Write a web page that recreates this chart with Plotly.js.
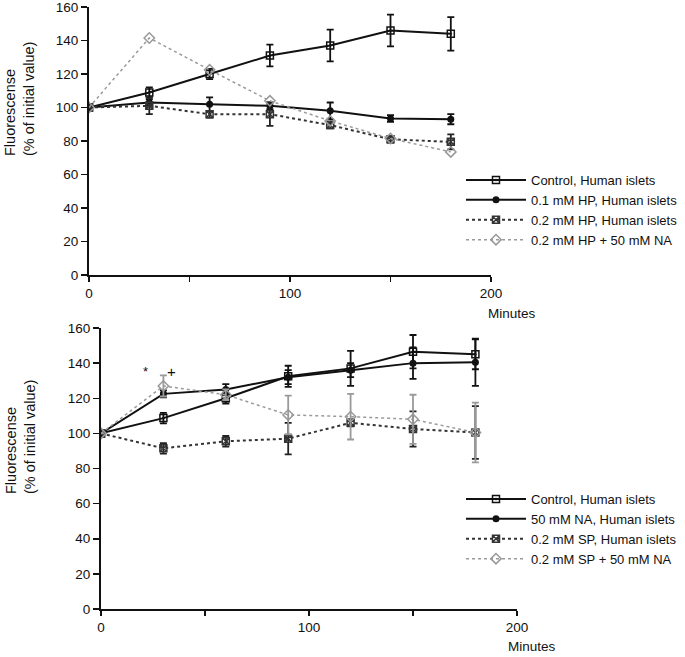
<!DOCTYPE html>
<html>
<head>
<meta charset="utf-8">
<script src="https://cdn.plot.ly/plotly-3.0.1.min.js"></script>
<style>html,body{margin:0;padding:0;background:#fff;}#chart{width:685px;height:657px;}</style>
</head>
<body>
<div id="chart"></div>
<script>
// ---- data ----
const minutes = [0, 30, 60, 90, 120, 150, 180];

// Top panel
const topNames = ["Control, Human islets", "0.1 mM HP, Human islets", "0.2 mM HP, Human islets", "0.2 mM HP + 50 mM NA"];
const topControl = [100, 109, 120, 131, 137, 146, 144];
const topControlErr = [0, 3, 3, 6.5, 9.5, 9.5, 10];
const topHP01 = [100, 103, 102, 101, 98, 93.5, 93];
const topHP01Err = [0, 2, 4, 2, 5, 2, 3];
const topHP02 = [100, 101, 96, 96, 89.5, 81, 79.5];
const topHP02Err = [0, 5, 2, 7, 2, 2, 4.5];
const topHPNA = [100, 141.5, 122.5, 104, 92, 81.5, 73.5];

// Bottom panel
const botNames = ["Control, Human islets", "50 mM NA, Human islets", "0.2 mM SP, Human islets", "0.2 mM SP + 50 mM NA"];
const botControl = [100, 108.7, 120, 132.5, 137, 146.5, 145];
const botControlErr = [0, 3, 3, 6, 10, 9.5, 8.5];
const botNA = [100, 122.5, 125, 132, 136, 140, 140.5];
const botNAErr = [0, 2, 3, 4, 4, 9, 13.5];
const botSP = [100, 91.5, 95.5, 97, 106, 102.5, 100.5];
const botSPErr = [0, 3, 3, 9, 2, 10, 15];
const botSPNA = [100, 127, 122, 110.5, 109.5, 108, 100.5];
const botSPNAErr = [0, 6, 3, 11, 13, 14, 17];

const xTickVals = [0, 50, 100, 150, 200];
const xTickText = ["0", "", "100", "", "200"];
const yTickVals = [0, 20, 40, 60, 80, 100, 120, 140, 160];

// ---- styles ----
const FONT = "Liberation Sans, Arial, Helvetica, sans-serif";
const styles = [
  {line:{color:"#111", width:2, dash:"solid"}, marker:{symbol:"square-open-dot", size:7, color:"#111", line:{width:1.5, color:"#111"}}, err:"#111"},
  {line:{color:"#111", width:2, dash:"solid"}, marker:{symbol:"circle", size:7, color:"#111"}, err:"#111"},
  {line:{color:"#333", width:2, dash:"dot"}, marker:{symbol:"square-x-open", size:7, color:"#333", line:{width:1.5, color:"#333"}}, err:"#222"},
  {line:{color:"#9a9a9a", width:1.5, dash:"dot"}, marker:{symbol:"diamond-open", size:8, color:"#999", line:{width:1.5, color:"#999"}}, err:"#9a9a9a"}
];

function tr(y, err, i, names, xa, ya, lg) {
  const s = styles[i];
  const t = {
    x: minutes, y: y, type: "scatter", mode: "lines+markers",
    name: names[i], xaxis: xa, yaxis: ya, legend: lg,
    line: s.line, marker: s.marker
  };
  if (err) t.error_y = {type: "data", array: err, visible: true, color: s.err, thickness: 1.8, width: 3.5};
  return t;
}

const data = [
  tr(topControl, topControlErr, 0, topNames, "x", "y", "legend"),
  tr(topHP01, topHP01Err, 1, topNames, "x", "y", "legend"),
  tr(topHP02, topHP02Err, 2, topNames, "x", "y", "legend"),
  tr(topHPNA, null, 3, topNames, "x", "y", "legend"),
  tr(botControl, botControlErr, 0, botNames, "x2", "y2", "legend2"),
  tr(botNA, botNAErr, 1, botNames, "x2", "y2", "legend2"),
  tr(botSP, botSPErr, 2, botNames, "x2", "y2", "legend2"),
  tr(botSPNA, botSPNAErr, 3, botNames, "x2", "y2", "legend2")
];

const W = 685, H = 657;
function px(x) { return x / W; }
function py(y) { return 1 - y / H; }

const xAxisBase = {
  range: [0, 200], showline: true, linecolor: "#111", linewidth: 2,
  ticks: "outside", ticklen: 5, tickwidth: 1.5, tickcolor: "#111",
  tickvals: xTickVals, ticktext: xTickText, showgrid: false, zeroline: false,
  tickfont: {family: FONT, size: 13.5, color: "#111"}, fixedrange: true, ticklabeloverflow: "allow"
};
const yAxisBase = {
  range: [0, 160], showline: true, linecolor: "#111", linewidth: 2,
  ticks: "outside", ticklen: 6, tickwidth: 1.5, tickcolor: "#111",
  tickvals: yTickVals, showgrid: false, zeroline: false,
  tickfont: {family: FONT, size: 13.5, color: "#111"}, fixedrange: true, ticklabeloverflow: "allow"
};

const legBase = {xanchor: "left", yanchor: "top", bgcolor: "rgba(0,0,0,0)",
  font: {family: FONT, size: 13, color: "#111"}, tracegroupgap: 0, itemwidth: 60};

function lab(x, y, text, extra) {
  return Object.assign({xref: "paper", yref: "paper", x: px(x), y: py(y), text: text,
    xanchor: "center", yanchor: "middle", showarrow: false,
    font: {family: FONT, size: 13.5, color: "#111"}}, extra || {});
}

const yTitle = "Fluorescense<br>(% of initial value)";
const yTitleFont = {family: FONT, size: 14.5, color: "#111"};

const layout = {
  width: W, height: H, margin: {l: 0, r: 0, t: 0, b: 0},
  paper_bgcolor: "#fff", plot_bgcolor: "rgba(0,0,0,0)",
  font: {family: FONT, color: "#111"},
  xaxis: Object.assign({}, xAxisBase, {domain: [px(89), px(491)], anchor: "y"}),
  yaxis: Object.assign({}, yAxisBase, {domain: [py(275), py(7)], anchor: "x"}),
  xaxis2: Object.assign({}, xAxisBase, {domain: [px(101), px(517)], anchor: "y2"}),
  yaxis2: Object.assign({}, yAxisBase, {domain: [py(609), py(328)], anchor: "x2"}),
  showlegend: true,
  legend: Object.assign({}, legBase, {x: px(461), y: py(165)}),
  legend2: Object.assign({}, legBase, {x: px(461), y: py(484)}),
  annotations: [
    lab(20, 99, yTitle, {textangle: -90, align: "left", font: yTitleFont}),
    lab(20, 437, yTitle, {textangle: -90, align: "left", font: yTitleFont}),
    lab(512, 313, "Minutes"),
    lab(532, 646, "Minutes"),
    {xref: "x2", yref: "y2", x: 21.6, y: 135, text: "*", showarrow: false,
     xanchor: "center", yanchor: "middle", font: {family: FONT, size: 13, color: "#111"}},
    {xref: "x2", yref: "y2", x: 33.7, y: 135, text: "+", showarrow: false,
     xanchor: "center", yanchor: "middle", font: {family: FONT, size: 15, color: "#111"}}
  ]
};

Plotly.newPlot("chart", data, layout, {staticPlot: true, displayModeBar: false});
</script>
</body>
</html>
